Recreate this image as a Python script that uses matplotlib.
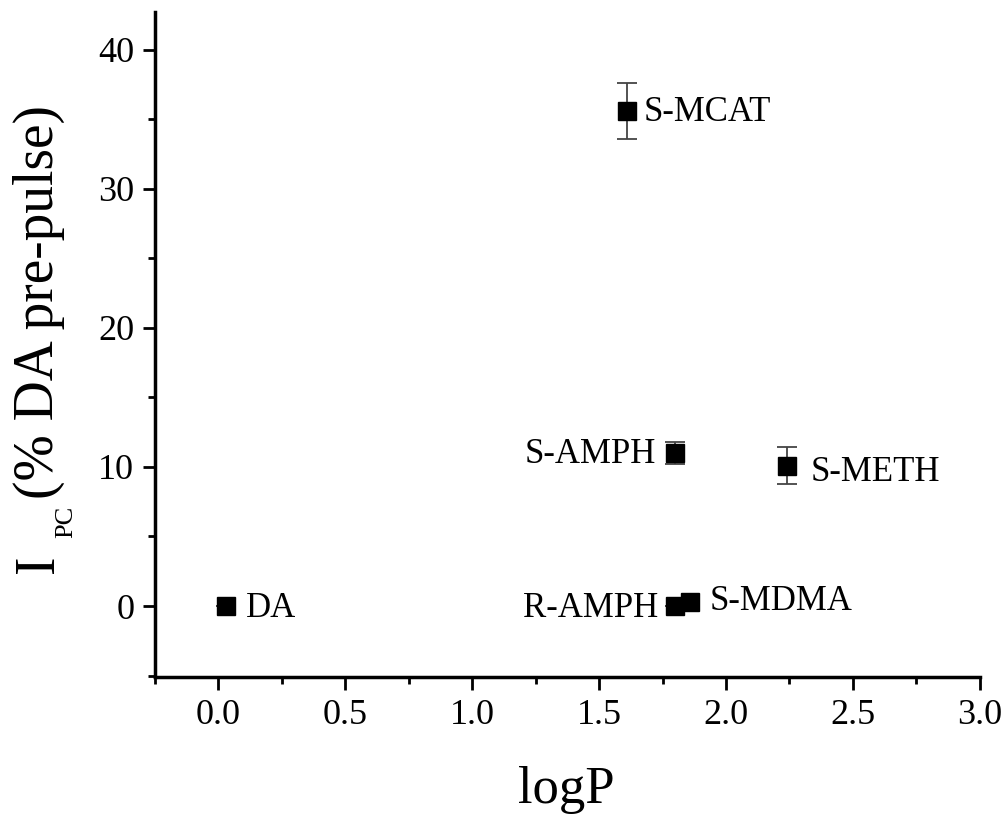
import numpy as np
import matplotlib.pyplot as plt
from matplotlib.ticker import MultipleLocator

plt.rcParams['font.family'] = ['Liberation Serif', 'DejaVu Serif']

# logP vs. I_PC for each compound
names = ['DA', 'S-MCAT', 'S-AMPH', 'S-METH', 'R-AMPH', 'S-MDMA']
logp = [0.03, 1.61, 1.80, 2.24, 1.80, 1.86]
ipc = [0.0, 35.6, 11.0, 10.1, 0.0, 0.3]
ipc_err = [0.0, 2.0, 0.8, 1.3, 0.0, 0.0]

# label offsets (points) and alignment
offsets = [(14, -2), (12, -1), (-14, -1), (17, -5), (-12, -2), (14, 0)]
aligns = ['left', 'left', 'right', 'left', 'right', 'left']

W, H = 1008, 815
fig = plt.figure(figsize=(W / 100, H / 100), dpi=100)
ax = fig.add_axes([0.1538, 0.1693, 0.8182, 0.8160])

ax.errorbar(logp, ipc, yerr=ipc_err, fmt='s', color='black', ms=13,
            ecolor='#444444', elinewidth=1.3, capsize=7, capthick=1.3)

for n, x, y, off, ha in zip(names, logp, ipc, offsets, aligns):
    ax.annotate(n, (x, y), xytext=off, textcoords='offset points',
                ha=ha, va='center', fontsize=25)

ax.set_xlim(-0.25, 3.0)
ax.set_ylim(-5.1, 42.7)
ax.xaxis.set_major_locator(MultipleLocator(0.5))
ax.xaxis.set_minor_locator(MultipleLocator(0.25))
ax.yaxis.set_major_locator(MultipleLocator(10))
ax.yaxis.set_minor_locator(MultipleLocator(5))
ax.xaxis.set_major_formatter(plt.FormatStrFormatter('%.1f'))

for s in ['top', 'right']:
    ax.spines[s].set_visible(False)
for s in ['left', 'bottom']:
    ax.spines[s].set_linewidth(2.5)

ax.tick_params(which='major', direction='out', length=9, width=2, labelsize=26)
ax.tick_params(which='minor', direction='out', length=5, width=2)
ax.tick_params(axis='x', pad=7)
ax.tick_params(axis='y', pad=6)

# axis titles (y title built from pieces for the small subscript)
fig.text(566 / W, 1 - 803 / H, 'logP', fontsize=38, ha='center', va='baseline')
fig.text(53 / W, 1 - 573 / H, 'I', fontsize=40, rotation=90,
         rotation_mode='anchor', ha='left', va='baseline')
fig.text(72 / W, 1 - 538 / H, 'PC', fontsize=19, rotation=90,
         rotation_mode='anchor', ha='left', va='baseline')
fig.text(53 / W, 1 - 499 / H, '(% DA pre-pulse)', fontsize=40, rotation=90,
         rotation_mode='anchor', ha='left', va='baseline')

fig.savefig('out.png', dpi=100)
